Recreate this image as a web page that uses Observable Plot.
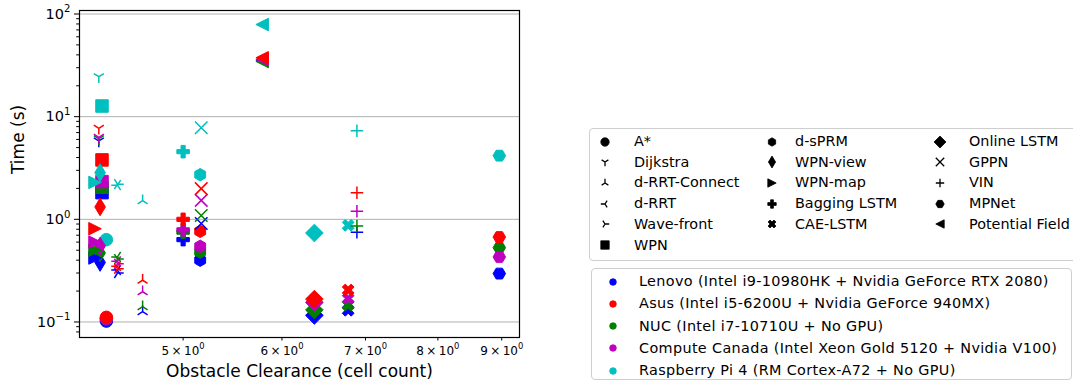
<!DOCTYPE html>
<html><head><meta charset="utf-8">
<script src="https://cdn.jsdelivr.net/npm/d3@7"></script>
<script src="https://cdn.jsdelivr.net/npm/@observablehq/plot@0.6"></script>
<style>
html,body{margin:0;padding:0;background:#fff;}
#wrap{position:relative;width:1073px;height:381px;overflow:hidden;font-family:"DejaVu Sans",sans-serif;}
#chart{position:absolute;left:0;top:0;}
.lbox{position:absolute;border:1px solid #cfcfcf;border-radius:4px;background:#fff;box-sizing:border-box;}
.item{position:absolute;font-size:14.4px;line-height:16px;white-space:nowrap;color:#000;}
.item.dev{letter-spacing:0.35px;}
.sym{position:absolute;overflow:visible;}
</style></head><body>
<div id="wrap"><div id="chart"></div></div>
<script>
// ---------- data ----------
const algorithms = ["A*","Dijkstra","d-RRT-Connect","d-RRT","Wave-front","WPN","d-sPRM","WPN-view","WPN-map","Bagging LSTM","CAE-LSTM","Online LSTM","GPPN","VIN","MPNet","Potential Field"];
const clearance = [4.34, 4.28, 4.64, 4.43, 4.43, 4.305, 5.16, 4.29, 4.25, 5.00, 6.78, 6.37, 5.17, 6.89, 8.96, 5.785];
const devices = [
  "Lenovo (Intel i9-10980HK + Nvidia GeForce RTX 2080)",
  "Asus (Intel i5-6200U + Nvidia GeForce 940MX)",
  "NUC (Intel i7-10710U + No GPU)",
  "Compute Canada (Intel Xeon Gold 5120 + Nvidia V100)",
  "Raspberry Pi 4 (RM Cortex-A72 + No GPU)"
];
const lenovo        = [0.102, 5.8, 0.126, 0.32, 0.30, 1.82, 0.40, 0.38, 0.42, 0.634, 0.130, 0.116, 0.91, 0.75, 0.296, 35.5];
const asus          = [0.111, 7.7, 0.255, 0.35, 0.33, 3.79, 0.764, 1.32, 0.81, 1.00, 0.205, 0.167, 1.99, 1.82, 0.672, 37.5];
const nuc           = [0.107, 6.1, 0.141, 0.43, 0.41, 2.05, 0.48, 0.47, 0.50, 0.75, 0.146, 0.131, 1.09, 0.86, 0.53, 34.5];
const computeCanada = [0.108, 6.3, 0.197, 0.39, 0.37, 2.33, 0.546, 0.55, 0.60, 0.79, 0.169, 0.155, 1.53, 1.20, 0.43, 36.0];
const raspberryPi   = [0.634, 24.5, 1.52, 2.15, 2.2, 12.7, 2.72, 2.85, 2.29, 4.56, 0.874, 0.736, 7.8, 7.3, 4.17, 79];
const yMajorTicks = [0.1, 1, 10, 100];
const yTickBase = ["10", "10", "10", "10"];
const yTickExp = ["\u22121", "0", "1", "2"];
const xTicks = [5, 6, 7, 8, 9];
const xTickBase = ["5\u2009\u00D7\u200910", "6\u2009\u00D7\u200910", "7\u2009\u00D7\u200910", "8\u2009\u00D7\u200910", "9\u2009\u00D7\u200910"];
const xTickExp = ["0", "0", "0", "0", "0"];

// ---------- styles ----------
const markers = ["o","1","2","3","4","s","h","d",">","P","X","D","x","+","H","<"];
const deviceColors = ["#0000ff","#ff0000","#008000","#bf00bf","#00bfbf"];
const drawOrder = [0, 2, 3, 1, 4];
const deviceTimes = [lenovo, asus, nuc, computeCanada, raspberryPi];
const strokeOnly = new Set(["1","2","3","4","x","+"]);

function poly(ctx, pts) {
  ctx.moveTo(pts[0][0], pts[0][1]);
  for (let k = 1; k < pts.length; k++) ctx.lineTo(pts[k][0], pts[k][1]);
  ctx.closePath();
}
function arms(ctx, pts) {
  for (const p of pts) { ctx.moveTo(0, 0); ctx.lineTo(p[0], p[1]); }
}
function plusPts(h) {
  const a = h / 3;
  return [[-a,-h],[a,-h],[a,-a],[h,-a],[h,a],[a,a],[a,h],[-a,h],[-a,a],[-h,a],[-h,-a],[-a,-a]];
}
function sym(type) {
  return {draw(ctx, size) {
    const h = Math.sqrt(size / Math.PI);
    const s2 = Math.SQRT2;
    switch (type) {
      case "o": ctx.moveTo(h, 0); ctx.arc(0, 0, h, 0, 2 * Math.PI); break;
      case "s": poly(ctx, [[-h,-h],[h,-h],[h,h],[-h,h]]); break;
      case "D": { const d = h * s2; poly(ctx, [[0,-d],[d,0],[0,d],[-d,0]]); break; }
      case "d": { const d = h * s2, w = 0.6 * d; poly(ctx, [[0,-d],[w,0],[0,d],[-w,0]]); break; }
      case "h": { const p = []; for (let k = 0; k < 6; k++) { const t = Math.PI/2 + k*Math.PI/3; p.push([h*Math.cos(t), -h*Math.sin(t)]); } poly(ctx, p); break; }
      case "H": { const p = []; for (let k = 0; k < 6; k++) { const t = k*Math.PI/3; p.push([h*Math.cos(t), -h*Math.sin(t)]); } poly(ctx, p); break; }
      case ">": poly(ctx, [[h,0],[-h,-h],[-h,h]]); break;
      case "<": poly(ctx, [[-h,0],[h,-h],[h,h]]); break;
      case "P": poly(ctx, plusPts(h)); break;
      case "X": { const c = Math.SQRT1_2; poly(ctx, plusPts(h).map(([x,y]) => [(x - y) * c, (x + y) * c])); break; }
      case "x": ctx.moveTo(-h,-h); ctx.lineTo(h,h); ctx.moveTo(-h,h); ctx.lineTo(h,-h); break;
      case "+": ctx.moveTo(-h,0); ctx.lineTo(h,0); ctx.moveTo(0,-h); ctx.lineTo(0,h); break;
      case "1": arms(ctx, [[0,h],[0.8*h,-0.5*h],[-0.8*h,-0.5*h]]); break;
      case "2": arms(ctx, [[0,-h],[0.8*h,0.5*h],[-0.8*h,0.5*h]]); break;
      case "3": arms(ctx, [[-h,0],[0.5*h,0.8*h],[0.5*h,-0.8*h]]); break;
      case "4": arms(ctx, [[h,0],[-0.5*h,0.8*h],[-0.5*h,-0.8*h]]); break;
    }
  }};
}

// ---------- rows ----------
const rows = [];
algorithms.forEach((a, i) => drawOrder.forEach(j => rows.push({
  algorithm: a, device: devices[j], clearance: clearance[i], time: deviceTimes[j][i]
})));

const S = 12.5;
const dotMarks = algorithms.map((a, i) => {
  const m = markers[i];
  const data = rows.filter(r => r.algorithm === a);
  const base = {x: "clearance", y: "time", symbol: sym(m), r: S / 2};
  return strokeOnly.has(m)
    ? Plot.dot(data, {...base, fill: "none", stroke: "device", strokeWidth: 1.5})
    : Plot.dot(data, {...base, fill: "device", stroke: "device", strokeWidth: 1});
});

const yMinor = [];
for (let e = -2; e <= 2; e++) for (let k = 2; k <= 9; k++) {
  const v = k * Math.pow(10, e);
  if (v >= 0.0706 && v <= 108.2) yMinor.push(v);
}

const yKey = d => "Y" + Math.round(Math.log10(d));
const xKey = d => "X" + Math.round(d);

const chart = Plot.plot({
  width: 540, height: 381,
  marginLeft: 79, marginRight: 21, marginTop: 10, marginBottom: 44,
  style: {fontFamily: "DejaVu Sans", background: "white", color: "black", overflow: "visible"},
  x: {type: "log", domain: [4.13, 9.30]},
  y: {type: "log", domain: [0.0706, 108.2]},
  color: {domain: devices, range: deviceColors},
  marks: [
    Plot.gridY({ticks: yMajorTicks, stroke: "#b0b0b0", strokeOpacity: 1, strokeWidth: 1}),
    ...dotMarks,
    Plot.frame({stroke: "black", strokeWidth: 1.2}),
    Plot.axisY({ticks: yMajorTicks, tickSize: 5, tickPadding: 4, fontSize: 14.5, tickFormat: yKey, label: null}),
    Plot.axisY({ticks: yMinor, tickSize: 2.8, tickFormat: () => "", label: null}),
    Plot.axisX({ticks: xTicks, tickSize: 3.5, tickPadding: 5, fontSize: 12, tickFormat: xKey, label: null}),
    Plot.text(["Obstacle Clearance (cell count)"], {frameAnchor: "bottom", dy: 39, fontSize: 17, text: d => d}),
    Plot.text(["Time (s)"], {frameAnchor: "left", dx: -61, rotate: -90, fontSize: 17, text: d => d})
  ]
});

// turn tick labels into base + raised exponent (real text with tspan)
const NS = "http://www.w3.org/2000/svg";
chart.querySelectorAll("text").forEach(t => {
  const s = t.textContent;
  let base = null, exp = null;
  if (/^Y-?\d$/.test(s)) { const i = yMajorTicks.findIndex(v => Math.round(Math.log10(v)) === +s.slice(1)); base = yTickBase[i]; exp = yTickExp[i]; }
  else if (/^X\d$/.test(s)) { const i = xTicks.indexOf(+s.slice(1)); base = xTickBase[i]; exp = xTickExp[i]; }
  if (base === null) return;
  t.textContent = "";
  t.appendChild(document.createTextNode(base));
  const sp = document.createElementNS(NS, "tspan");
  sp.setAttribute("font-size", "70%");
  sp.setAttribute("dy", "-0.62em");
  sp.textContent = exp;
  t.appendChild(sp);
});
document.getElementById("chart").appendChild(chart);

// ---------- legends ----------
const wrap = document.getElementById("wrap");
function addBox(l, t, w, h) {
  const b = document.createElement("div");
  b.className = "lbox";
  Object.assign(b.style, {left: l + "px", top: t + "px", width: w + "px", height: h + "px"});
  wrap.appendChild(b);
}
function addLabel(x, y, txt, cls) {
  const d = document.createElement("div");
  d.className = "item" + (cls ? " " + cls : "");
  d.textContent = txt;
  Object.assign(d.style, {left: x + "px", top: (y - 8.5) + "px"});
  wrap.appendChild(d);
}
function addSymbol(cx, cy, type, half, color) {
  const svg = document.createElementNS(NS, "svg");
  svg.setAttribute("class", "sym");
  svg.setAttribute("width", 20); svg.setAttribute("height", 20);
  svg.style.left = (cx - 10) + "px"; svg.style.top = (cy - 10) + "px";
  const p = document.createElementNS(NS, "path");
  p.setAttribute("transform", "translate(10,10)");
  p.setAttribute("d", d3.symbol(sym(type), Math.PI * half * half)());
  if (strokeOnly.has(type)) { p.setAttribute("fill", "none"); p.setAttribute("stroke", color); p.setAttribute("stroke-width", 1.3); }
  else { p.setAttribute("fill", color); p.setAttribute("stroke", color); p.setAttribute("stroke-width", 0.8); }
  svg.appendChild(p);
  wrap.appendChild(svg);
}

addBox(589, 128, 500, 133);
const colMarkX = [605, 771.5, 940], colLabelX = [634, 795, 969];
const colStart = [0, 6, 11];
algorithms.forEach((a, i) => {
  const c = i < 6 ? 0 : (i < 11 ? 1 : 2);
  const k = i - colStart[c];
  const y = 141.5 + k * 20.7;
  addSymbol(colMarkX[c], y, markers[i], 4.2, "#000");
  addLabel(colLabelX[c], y, a);
});

addBox(591, 268, 481, 112);
devices.forEach((dv, j) => {
  const y = 281.7 + j * 22.25;
  addSymbol(613, y, "o", 3.3, deviceColors[j]);
  addLabel(639, y, dv, "dev");
});
</script></body></html>
